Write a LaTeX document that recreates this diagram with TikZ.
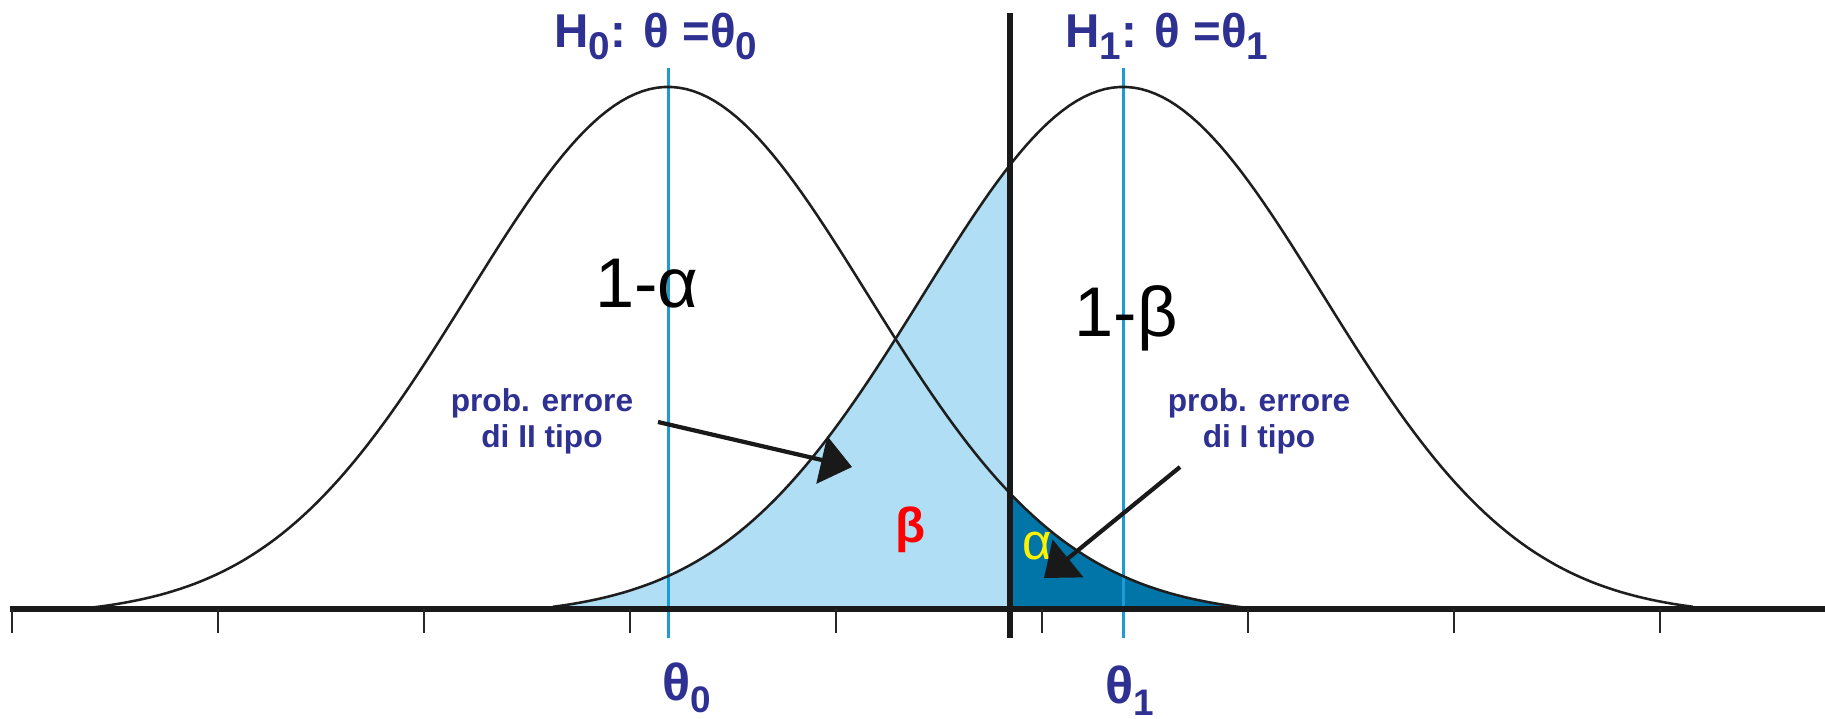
\documentclass[tikz,border=0pt]{standalone}
\usepackage{fontspec}
\setmainfont{Liberation Sans}
\usetikzlibrary{arrows.meta}
\definecolor{navy}{RGB}{46,49,146}
\definecolor{lightfill}{RGB}{176,222,244}
\definecolor{darkfill}{RGB}{2,117,168}
\definecolor{linblue}{RGB}{28,155,215}
\definecolor{curvecol}{RGB}{30,30,30}
\newcommand{\lowsubA}[1]{\raisebox{-3.4pt}{\fontsize{11pt}{11pt}\selectfont #1}}
\newcommand{\lowsubB}[1]{\raisebox{-3.5pt}{\fontsize{10.5pt}{10.5pt}\selectfont #1}}
\tikzset{
  curve/.style={draw=curvecol, line width=0.72pt},
  bluelin/.style={draw=linblue, line width=0.85pt},
  axisline/.style={draw=black!90, line width=1.7pt},
  tickmark/.style={draw=black!85, line width=0.55pt},
  pointer/.style={draw=black!90, line width=1.2pt, -{Triangle[length=0.31cm,width=0.48cm]}},
  hlabel/.style={text=navy, font=\fontsize{13.5pt}{15pt}\selectfont\bfseries, inner sep=0pt},
  errlabel/.style={text=navy, font=\fontsize{9pt}{10.3pt}\selectfont\bfseries, align=center, inner sep=0pt},
  biglabel/.style={text=black, font=\fontsize{20pt}{22pt}\selectfont, inner sep=0pt},
  thlabel/.style={text=navy, font=\fontsize{14.8pt}{16pt}\selectfont\bfseries, inner sep=0pt}
}
\begin{document}
\begin{tikzpicture}[x=0.01cm,y=-0.01cm]
\useasboundingbox (0,0) rectangle (1825,719);
\fill[white] (0,0) rectangle (1825,719);
% fills
\fill[lightfill] plot[domain=-570:-114, samples=90] ({1123+\x},{607-520*(exp(-0.5*(\x/200)^2)-0.01675)/0.98325}) -- (1010,607) -- cycle;
\fill[darkfill] plot[domain=341:572, samples=60] ({668+\x},{607-520*(exp(-0.5*(\x/200)^2)-0.01675)/0.98325}) -- (1010,607) -- cycle;
% centre lines
\coordinate (t0top) at (668,68);
\coordinate (t0bot) at (668,638);
\coordinate (t1top) at (1123,68);
\coordinate (t1bot) at (1123,638);
\draw[bluelin] (t0top) -- (t0bot);
\draw[bluelin] (t1top) -- (t1bot);
% curves
\draw[curve] plot[domain=-575:575, samples=160] ({668+\x},{607-520*(exp(-0.5*(\x/200)^2)-0.01675)/0.98325});
\draw[curve] plot[domain=-570:570, samples=160] ({1123+\x},{607-520*(exp(-0.5*(\x/200)^2)-0.01675)/0.98325});
% axis and ticks
\coordinate (axL) at (10,609);
\coordinate (axR) at (1825,609);
\draw[axisline] (axL) -- (axR);
\foreach \k in {0,...,8} {
  \draw[tickmark] ({11.6+206*\k},609) -- ({11.6+206*\k},633);
}
% critical line
\coordinate (crtop) at (1010,13);
\coordinate (crbot) at (1010,638);
\draw[axisline] (crtop) -- (crbot);
% labels
\node[hlabel, anchor=base] (h0) at (656,48) {H\lowsubA{0}: θ =θ\lowsubA{0}};
\node[hlabel, anchor=base] (h1) at (1167,48) {H\lowsubA{1}: θ =θ\lowsubA{1}};
\node[biglabel, anchor=base] (oma) at (647,308) {1-α};
\node[biglabel, anchor=base] (omb) at (1126,337) {1-β};
\node[errlabel] (e2) at (542,421) {prob. errore\\di II tipo};
\node[errlabel] (e1) at (1259,421) {prob. errore\\di I tipo};
\node[text=red, font=\fontsize{14pt}{15pt}\selectfont\bfseries, anchor=base, inner sep=0pt] (beta) at (911,543) {β};
\node[text=yellow, font=\fontsize{14.5pt}{15pt}\selectfont, anchor=base, inner sep=0pt] (alpha) at (1037,560) {α};
\node[thlabel, anchor=base west] (th0) at (662,700) {θ\lowsubB{0}};
\node[thlabel, anchor=base west] (th1) at (1105,703) {θ\lowsubB{1}};
% pointers
\coordinate (p2s) at (658,422);
\coordinate (p2e) at (852,467);
\coordinate (p1s) at (1180,467);
\coordinate (p1e) at (1044,578);
\draw[pointer] (p2s) -- (p2e);
\draw[pointer] (p1s) -- (p1e);
\end{tikzpicture}
\end{document}
